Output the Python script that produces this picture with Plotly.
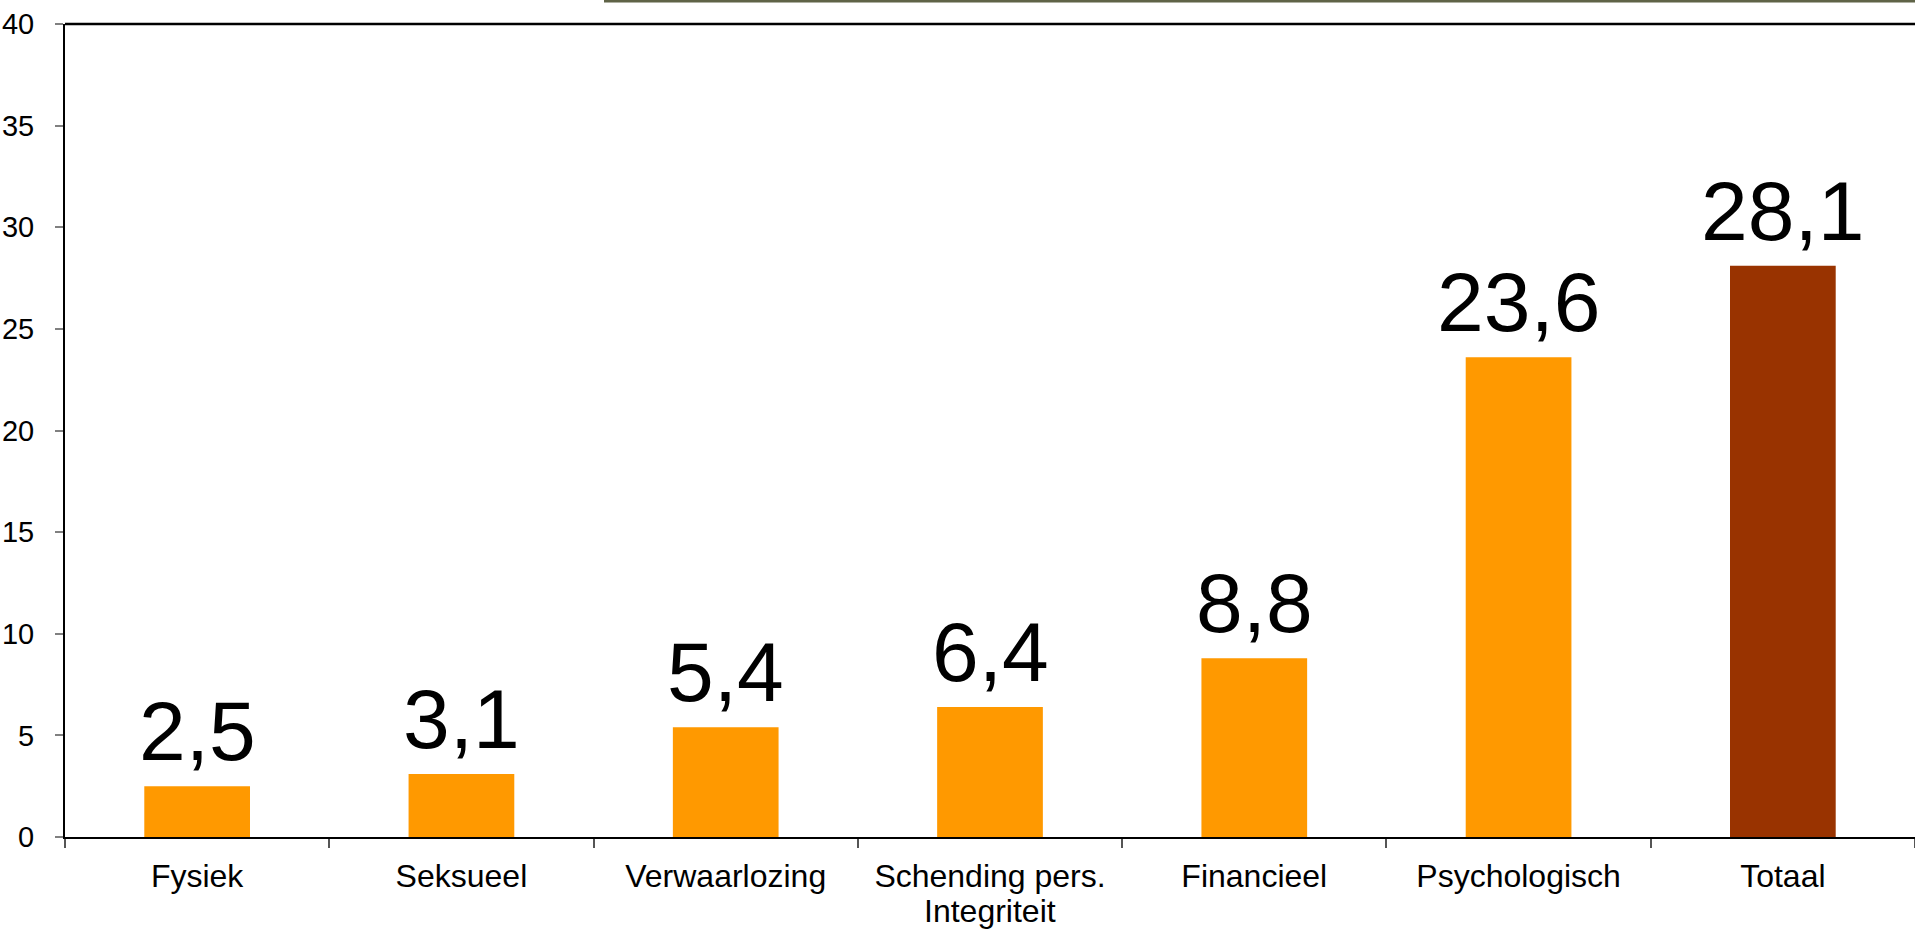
import plotly.graph_objects as go

categories = ["Fysiek", "Seksueel", "Verwaarlozing", "Schending pers. Integriteit",
              "Financieel", "Psychologisch", "Totaal"]
tick_line1 = ["Fysiek", "Seksueel", "Verwaarlozing", "Schending pers.",
              "Financieel", "Psychologisch", "Totaal"]
tick_line2 = ["", "", "", "Integriteit", "", "", ""]
values = [2.5, 3.1, 5.4, 6.4, 8.8, 23.6, 28.1]
value_labels = ["2,5", "3,1", "5,4", "6,4", "8,8", "23,6", "28,1"]
bar_colors = ["#FF9900"] * 6 + ["#993300"]
y_ticks = [0, 5, 10, 15, 20, 25, 30, 35, 40]

FONT = "Liberation Sans, Arial, sans-serif"

fig = go.Figure()
fig.add_trace(go.Bar(
    x=categories, y=values,
    marker=dict(color=bar_colors, line=dict(width=0)),
    width=0.4,
    hoverinfo="skip",
))

for c, v, t in zip(categories, values, value_labels):
    fig.add_annotation(x=c, y=v, text=t, showarrow=False, xref="x", yref="y",
                       yanchor="bottom", yshift=6,
                       font=dict(family=FONT, size=84, color="#000000"))

# second line of the wrapped category label (tighter line spacing than plotly's default)
for c, t in zip(categories, tick_line2):
    if t:
        fig.add_annotation(x=c, y=0, text=t, showarrow=False, xref="x", yref="paper",
                           yanchor="middle", yshift=-74,
                           font=dict(family=FONT, size=32, color="#000000"))

# top frame line and decorative olive line
fig.add_shape(type="line", xref="paper", yref="paper", x0=0, x1=1.01, y0=1, y1=1,
              line=dict(color="#000000", width=2.5))
fig.add_shape(type="line", xref="paper", yref="paper", x0=(604 - 65) / 1850, x1=1.01,
              y0=1 + 23 / 813, y1=1 + 23 / 813,
              line=dict(color="#5F6347", width=3))

fig.update_layout(
    width=1915, height=930,
    margin=dict(l=65, r=0, t=24, b=93, pad=0),
    paper_bgcolor="white", plot_bgcolor="white",
    showlegend=False,
    font=dict(family=FONT, color="#000000"),
    xaxis=dict(
        range=[-0.5, 6.5], automargin=False,
        tickmode="array", tickvals=categories, ticktext=tick_line1,
        showline=True, linecolor="#000000", linewidth=2,
        ticks="outside", tickson="boundaries", ticklen=9, tickwidth=1.5, tickcolor="#555555",
        tickfont=dict(family=FONT, size=32, color="#000000"),
        ticklabelstandoff=10,
        showgrid=False, zeroline=False, fixedrange=True,
    ),
    yaxis=dict(
        range=[0, 40], tickvals=y_ticks, automargin=False,
        showline=True, linecolor="#000000", linewidth=2,
        ticks="outside", ticklen=8, tickwidth=1.5, tickcolor="#808080",
        tickfont=dict(family=FONT, size=29, color="#000000"),
        ticklabelstandoff=15,
        showgrid=False, zeroline=False, fixedrange=True,
    ),
)

fig.write_html("out.html", config={"displayModeBar": False})
